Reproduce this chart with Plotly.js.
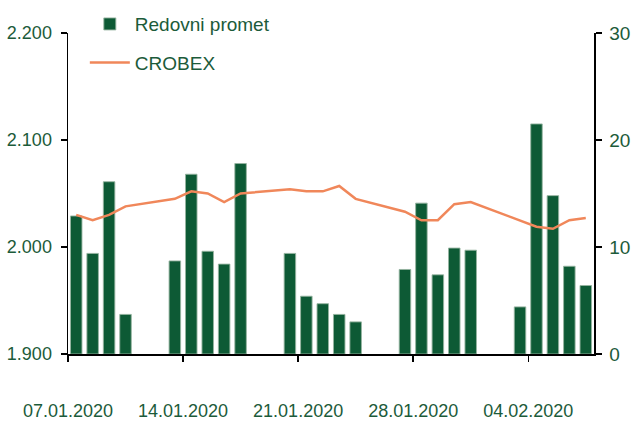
<!DOCTYPE html>
<html>
<head>
<meta charset="utf-8">
<script src="https://cdn.plot.ly/plotly-3.0.1.min.js"></script>
<style>
html,body{margin:0;padding:0;background:#fff;}
#chart{width:631px;height:422px;}
</style>
</head>
<body>
<div id="chart"></div>
<script>
var dates = ['2020-01-07','2020-01-08','2020-01-09','2020-01-10',
             '2020-01-13','2020-01-14','2020-01-15','2020-01-16','2020-01-17',
             '2020-01-20','2020-01-21','2020-01-22','2020-01-23','2020-01-24',
             '2020-01-27','2020-01-28','2020-01-29','2020-01-30','2020-01-31',
             '2020-02-03','2020-02-04','2020-02-05','2020-02-06','2020-02-07'];
var redovniPromet = [12.9, 9.4, 16.1, 3.7,
                     8.7, 16.8, 9.6, 8.4, 17.8,
                     9.4, 5.4, 4.7, 3.7, 3.0,
                     7.9, 14.1, 7.4, 9.9, 9.7,
                     4.4, 21.5, 14.8, 8.2, 6.4];
var crobex = [2030, 2025, 2030, 2038,
              2045, 2052, 2050, 2042, 2050,
              2054, 2052, 2052, 2057, 2045,
              2033, 2025, 2025, 2040, 2042,
              2025, 2019, 2017, 2025, 2027];
var xTickVals = ['2020-01-07','2020-01-14','2020-01-21','2020-01-28','2020-02-04'];
var xTickText = ['07.01.2020','14.01.2020','21.01.2020','28.01.2020','04.02.2020'];
var leftTickVals = [1900, 2000, 2100, 2200];
var rightTickVals = [0, 10, 20, 30];

var DAY = 86400000;
var green = '#1c5b3a';
var fontFam = '"Liberation Sans", Arial, sans-serif';
var fs = 18;

var traces = [
  {
    type: 'bar', name: 'Redovni promet', x: dates, y: redovniPromet,
    xperiod: DAY, xperiodalignment: 'middle',
    width: 0.7 * DAY,
    yaxis: 'y', legendgroup: 'a',
    marker: {color: '#0d5a35', line: {color: 'rgba(150,180,160,0.9)', width: 1}}
  },
  {
    type: 'scatter', mode: 'lines', name: 'CROBEX', x: dates, y: crobex,
    xperiod: DAY, xperiodalignment: 'middle',
    yaxis: 'y2', legendgroup: 'b',
    line: {color: '#f0875a', width: 2.5}
  }
];

var layout = {
  width: 631, height: 422,
  margin: {l: 68, r: 37, t: 33, b: 68, autoexpand: false},
  paper_bgcolor: '#fff', plot_bgcolor: '#fff',
  separators: ',.',
  font: {family: fontFam, size: fs, color: green},
  showlegend: true,
  legend: {
    x: 0.032, y: 1.087, xanchor: 'left', yanchor: 'top',
    bgcolor: 'rgba(0,0,0,0)', borderwidth: 0,
    itemwidth: 40, traceorder: 'grouped', tracegroupgap: 11,
    font: {family: fontFam, size: 19, color: green}
  },
  bargap: 0,
  xaxis: {
    type: 'date', range: ['2020-01-07', '2020-02-08'],
    tickmode: 'array', tickvals: xTickVals, ticktext: xTickText,
    ticks: 'outside', ticklen: 6, tickcolor: '#000', tickwidth: 1.5,
    showline: true, linecolor: '#000', linewidth: 1.5,
    showgrid: false, zeroline: false,
    ticklabelstandoff: 34,
    tickfont: {family: fontFam, size: fs, color: green}
  },
  yaxis: {
    range: [0, 30], side: 'right',
    tickmode: 'array', tickvals: rightTickVals,
    ticks: 'outside', ticklen: 6, tickcolor: '#000', tickwidth: 1.5,
    showline: true, linecolor: '#000', linewidth: 1.5,
    showgrid: false, zeroline: false,
    ticklabelstandoff: 4,
    tickfont: {family: fontFam, size: 19, color: green}
  },
  yaxis2: {
    range: [1900, 2200], side: 'left', overlaying: 'y',
    tickmode: 'array', tickvals: leftTickVals, tickformat: ',d',
    ticks: 'outside', ticklen: 6, tickcolor: '#000', tickwidth: 1.5,
    showline: true, linecolor: '#000', linewidth: 1.5,
    showgrid: false, zeroline: false,
    ticklabelstandoff: 5,
    tickfont: {family: fontFam, size: fs, color: green}
  }
};

Plotly.newPlot('chart', traces, layout, {displayModeBar: false, staticPlot: true});
</script>
</body>
</html>
